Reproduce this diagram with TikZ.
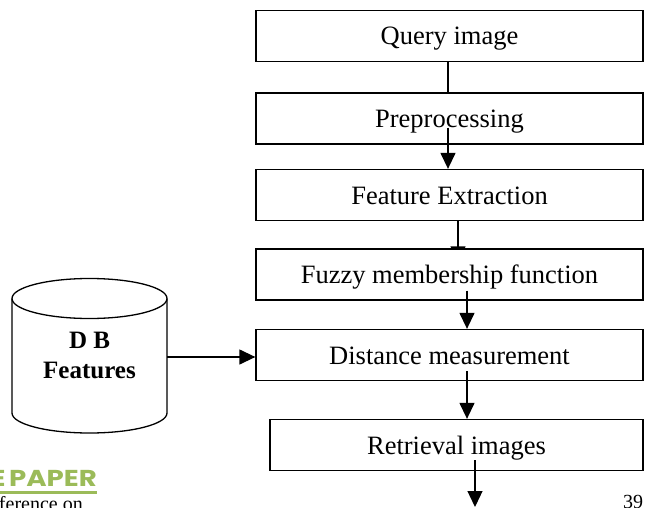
\documentclass[tikz,border=0pt]{standalone}
\usepackage{fontspec}
\setmainfont{Liberation Serif}
\newfontfamily\paperfont[FakeStretch=1.2, WordSpace=0.6]{Poppins}
\usetikzlibrary{arrows.meta,backgrounds}

\definecolor{papergreen}{RGB}{155,187,89}

\tikzset{
    block/.style={draw, line width=1.3pt, fill=white, minimum width=387pt, minimum height=51pt,
        inner sep=0pt, text height=18pt, text depth=0pt, font=\fontsize{26.5}{30}\selectfont},
    link/.style={line width=1.3pt},
    arr/.style={line width=1.3pt, -{Triangle[length=16pt,width=15pt]}},
}

\begin{document}
\begin{tikzpicture}[x=1pt, y=-1pt]
        \useasboundingbox ( 0, 0 ) rectangle ( 645, 508 );

        % блоки
        \node [block] (query) at ( 449.5, 36 ) {Query image};
        \node [block] (pre) at ( 449.5, 118.5 ) {Preprocessing};
        \node [block] (feat) at ( 449.5, 195 ) {Feature Extraction};
        \node [block] (fuzzy) at ( 449.5, 274.5 ) {Fuzzy membership function};
        \node [block] (dist) at ( 449.5, 355 ) {Distance measurement};
        \node [block, minimum width=373pt] (ret) at ( 456.5, 445 ) {Retrieval images};

        % база признаков (цилиндр)
        \draw [line width=1.3pt] ( 89.5, 298.5 ) ellipse [x radius=77.5, y radius=20];
        \draw [line width=1.3pt] ( 12, 298.5 ) -- ( 12, 413 )
            arc [start angle=180, end angle=0, x radius=77.5, y radius=20] -- ( 167, 298.5 );
        \node [align=center, font=\fontsize{25}{30}\selectfont\bfseries] (db) at ( 89.5, 355 ) {D B\\Features};
        \coordinate (dbside) at ( 167, 357 );

        \coordinate (out) at ( 475, 507 );

        % связи
        \draw [link] ([xshift=-1.5pt]query.south) -- ([xshift=-1.5pt]pre.north);
        \draw [arr] ([xshift=-1.5pt, yshift=17pt]pre.south) -- ([xshift=-1.5pt]feat.north);
        \begin{scope}[on background layer]
            \draw [arr] ([xshift=8.5pt, yshift=8pt]feat.south) -- ([xshift=8.5pt, yshift=-14pt]fuzzy.north);
        \end{scope}
        \draw [arr] ([xshift=17.5pt, yshift=10pt]fuzzy.south) -- ([xshift=17.5pt]dist.north);
        \draw [arr] ([xshift=17.5pt, yshift=10pt]dist.south) -- ([xshift=10.5pt]ret.north);
        \draw [arr] ([xshift=18.5pt, yshift=11pt]ret.south) -- (out);
        \draw [arr] (dbside) -- (dbside -| dist.west);

        % подписи страницы
        \node [anchor=base east, inner sep=0pt, text=papergreen, font=\paperfont\fontsize{23}{28}\selectfont\bfseries] (paper) at ( 97, 486 ) {E PAPER};
        \draw [papergreen, line width=3pt] ( 0, 492.5 ) -- (paper.east |- 0, 492.5);
        \node [anchor=base east, inner sep=0pt, font=\fontsize{20}{24}\selectfont] (conf) at ( 83, 510 ) {ference on};
        \node [anchor=base west, inner sep=0pt, font=\fontsize{20}{24}\selectfont] (page) at ( 623, 508.5 ) {39};
\end{tikzpicture}
\end{document}
